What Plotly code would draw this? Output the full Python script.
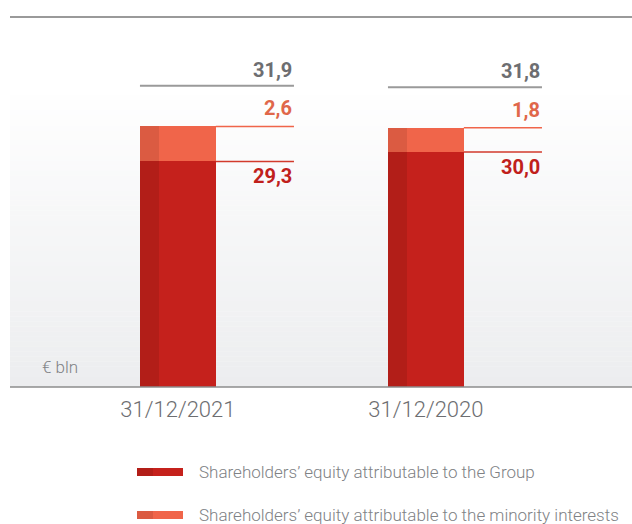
import plotly.graph_objects as go

# Shareholders' equity, € bln
dates = ["31/12/2021", "31/12/2020"]
group_equity = [29.3, 30.0]
minority_equity = [2.6, 1.8]
totals = [31.9, 31.8]

group_labels = ["29,3", "30,0"]
minority_labels = ["2,6", "1,8"]
total_labels = ["31,9", "31,8"]

legend_labels = [
    "Shareholders\u2019 equity attributable to the Group",
    "Shareholders\u2019 equity attributable to the minority interests",
]

# styling
RED = "#c5211c"
RED_DARK = "#b21e18"
ORANGE = "#f0654a"
ORANGE_DARK = "#db5b42"
GREY_TXT = "#6d6e71"
GREY_LINE = "#9a9a9a"
NUM_FONT = "Roboto, Liberation Sans, sans-serif"
TXT_FONT = "Roboto, Liberation Sans, sans-serif"

BAR_W = 0.306
STRIP_W = 0.075
LABEL_RIGHT = 0.468
TOTAL_GAP = 3.0  # units above the stack where the total leader sits

W, H = 632, 524
ML, MR, MT, MB = 10, 0, 17, 137


def xp(px):
    return (px - ML) / (W - ML - MR)


def yp(py):
    return (H - MB - py) / (H - MT - MB)


x = list(range(len(dates)))

fig = go.Figure()

# group equity: main body + darker left strip
fig.add_bar(x=x, y=group_equity, base=[0] * len(x), width=BAR_W, offset=-BAR_W / 2,
            marker=dict(color=RED, line=dict(width=0)), showlegend=False, hoverinfo="skip")
fig.add_bar(x=x, y=group_equity, base=[0] * len(x), width=STRIP_W, offset=-BAR_W / 2,
            marker=dict(color=RED_DARK, line=dict(width=0)), showlegend=False, hoverinfo="skip")
# minority interests stacked on top
fig.add_bar(x=x, y=minority_equity, base=group_equity, width=BAR_W, offset=-BAR_W / 2,
            marker=dict(color=ORANGE, line=dict(width=0)), showlegend=False, hoverinfo="skip")
fig.add_bar(x=x, y=minority_equity, base=group_equity, width=STRIP_W, offset=-BAR_W / 2,
            marker=dict(color=ORANGE_DARK, line=dict(width=0)), showlegend=False, hoverinfo="skip")

shapes = []

# soft vertical gradient behind the plot
n_strips = 60
g_top = yp(85)
for i in range(n_strips):
    t0 = i / n_strips
    t1 = (i + 1) / n_strips
    f = 1 - (t0 + t1) / 2  # 1 at bottom, 0 at top
    r = round(255 - (255 - 236) * f)
    g = round(255 - (255 - 237) * f)
    b = round(255 - (255 - 239) * f)
    shapes.append(dict(type="rect", xref="paper", yref="paper", layer="below",
                       x0=0, x1=1, y0=g_top * t0, y1=g_top * t1 + 0.001,
                       fillcolor=f"rgb({r},{g},{b})", line=dict(width=0)))

# top rule and baseline
shapes.append(dict(type="line", xref="paper", yref="paper", x0=0, x1=1, y0=1, y1=1,
                   line=dict(color=GREY_LINE, width=2)))
shapes.append(dict(type="line", xref="paper", yref="paper", x0=0, x1=1, y0=0, y1=0,
                   line=dict(color="#8c8c8c", width=1.5)))

annotations = []
for i, xi in enumerate(x):
    top = group_equity[i] + minority_equity[i]
    lead = top + TOTAL_GAP
    # total leader
    shapes.append(dict(type="line", xref="x", yref="y", x0=xi - BAR_W / 2, x1=xi + LABEL_RIGHT,
                       y0=lead, y1=lead, line=dict(color=GREY_LINE, width=2)))
    # minority leader
    shapes.append(dict(type="line", xref="x", yref="y", x0=xi + BAR_W / 2, x1=xi + LABEL_RIGHT,
                       y0=top, y1=top, line=dict(color=ORANGE, width=1.5)))
    # group leader
    shapes.append(dict(type="line", xref="x", yref="y", x0=xi + BAR_W / 2, x1=xi + LABEL_RIGHT,
                       y0=group_equity[i], y1=group_equity[i], line=dict(color="#d23a2c", width=1.5)))

    annotations.append(dict(x=xi + LABEL_RIGHT, y=lead, xref="x", yref="y", text=total_labels[i],
                            showarrow=False, xanchor="right", yanchor="bottom", yshift=2,
                            font=dict(family=NUM_FONT, size=20, color=GREY_TXT, weight="bold")))
    annotations.append(dict(x=xi + LABEL_RIGHT, y=top, xref="x", yref="y", text=minority_labels[i],
                            showarrow=False, xanchor="right", yanchor="bottom", yshift=4,
                            font=dict(family=NUM_FONT, size=20, color="#e0674a", weight="bold")))
    annotations.append(dict(x=xi + LABEL_RIGHT, y=group_equity[i], xref="x", yref="y",
                            text=group_labels[i], showarrow=False, xanchor="right", yanchor="top",
                            yshift=-1,
                            font=dict(family=NUM_FONT, size=20, color="#c0201b", weight="bold")))

# unit label
annotations.append(dict(x=xp(40), y=yp(367), xref="paper", yref="paper", text="\u20ac bln",
                        showarrow=False, xanchor="left", yanchor="middle",
                        font=dict(family=TXT_FONT, size=17, color="#808285", weight=300)))

# legend drawn by hand
legend_rows = [(RED, RED_DARK, 472), (ORANGE, ORANGE_DARK, 515)]
for (main, dark, py), label in zip(legend_rows, legend_labels):
    y0, y1 = yp(py + 4), yp(py - 4)
    shapes.append(dict(type="rect", xref="paper", yref="paper", x0=xp(137), x1=xp(153),
                       y0=y0, y1=y1, fillcolor=dark, line=dict(width=0)))
    shapes.append(dict(type="rect", xref="paper", yref="paper", x0=xp(153), x1=xp(183),
                       y0=y0, y1=y1, fillcolor=main, line=dict(width=0)))
    annotations.append(dict(x=xp(197), y=(y0 + y1) / 2, xref="paper", yref="paper", text=label,
                            showarrow=False, xanchor="left", yanchor="middle",
                            font=dict(family=TXT_FONT, size=17, color="#808285", weight=300)))

fig.update_layout(
    width=W, height=H,
    margin=dict(l=ML, r=MR, t=MT, b=MB, pad=0),
    paper_bgcolor="white", plot_bgcolor="rgba(0,0,0,0)",
    barmode="overlay", bargap=0,
    showlegend=False,
    shapes=shapes, annotations=annotations,
    xaxis=dict(tickmode="array", tickvals=x, ticktext=dates, range=[-0.677, 1.831],
               showgrid=False, zeroline=False, showline=False, ticks="",
               tickfont=dict(family=TXT_FONT, size=22, color=GREY_TXT, weight=300),
               ticklabelstandoff=7),
    yaxis=dict(range=[12.6, 40], visible=False, showgrid=False, zeroline=False),
)

fig.write_html("out.html")
